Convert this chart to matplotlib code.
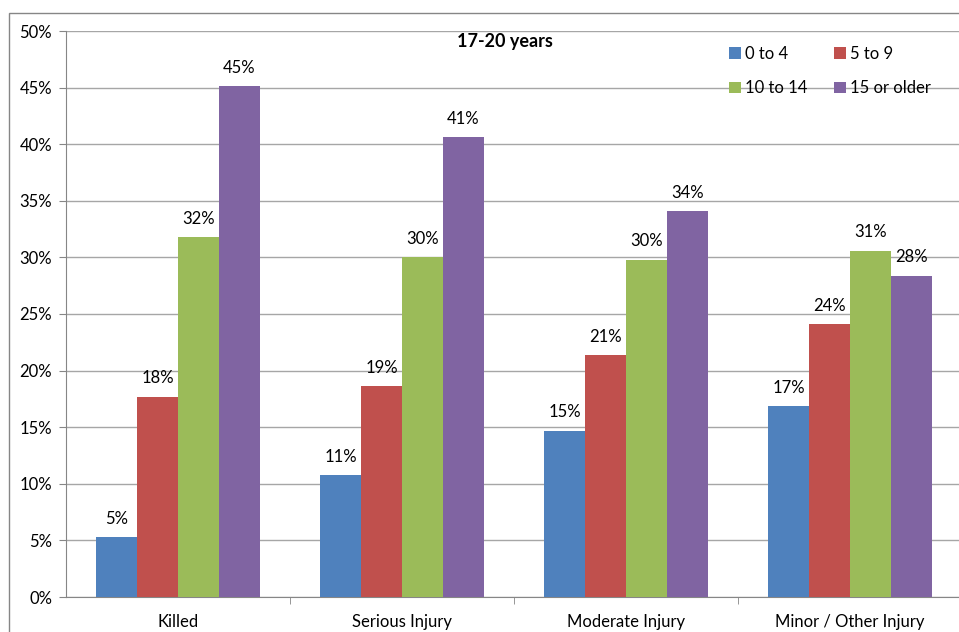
import matplotlib.pyplot as plt
import numpy as np
from matplotlib.patches import Rectangle

categories = ['Killed', 'Serious Injury', 'Moderate Injury', 'Minor / Other Injury']
series = ['0 to 4', '5 to 9', '10 to 14', '15 or older']
vals_0_4 = [5.3, 10.8, 14.7, 16.9]
vals_5_9 = [17.7, 18.6, 21.4, 24.1]
vals_10_14 = [31.8, 30.0, 29.8, 30.6]
vals_15 = [45.1, 40.6, 34.1, 28.4]
colors = ['#4f81bd', '#c0504d', '#9bbb59', '#8064a2']
yticks = [0, 5, 10, 15, 20, 25, 30, 35, 40, 45, 50]

plt.rcParams['font.family'] = ['Lato', 'DejaVu Sans']

fig = plt.figure(figsize=(9.59, 6.32), dpi=100)
ax = fig.add_axes([66 / 959, 1 - 597 / 632, 896 / 959, 566 / 632])

# chart-area border
fig.patches.append(Rectangle((9 / 959, -0.1), 2, (632 - 13) / 632 + 0.1,
                             transform=fig.transFigure, fill=False,
                             edgecolor='#868686', linewidth=1))

x = np.arange(len(categories))
w = 0.182
data = [vals_0_4, vals_5_9, vals_10_14, vals_15]
bars = []
for i, (vals, c, name) in enumerate(zip(data, colors, series)):
    pos = x + (i - 1.5) * w
    bars.append(ax.bar(pos, vals, w, color=c, label=name, zorder=3))
    for p, v in zip(pos, vals):
        ax.text(p, v + 0.9, '%d%%' % round(v), ha='center', va='bottom', fontsize=12)

ax.set_xlim(-0.5, 3.5)
ax.set_ylim(0, 50)
ax.set_yticks(yticks)
ax.set_yticklabels(['%d%%' % t for t in yticks], fontsize=12)
ax.set_xticks(x)
ax.set_xticklabels(categories, fontsize=12)
ax.tick_params(axis='x', which='major', length=0, pad=12)
ax.set_xticks([0.5, 1.5, 2.5], minor=True)
ax.tick_params(axis='x', which='minor', length=5, color='#868686')
ax.tick_params(axis='y', length=5, color='#868686', pad=5)
ax.grid(axis='y', color='#a6a6a6', linewidth=1, zorder=0)
for s in ['top', 'right']:
    ax.spines[s].set_visible(False)
for s in ['left', 'bottom']:
    ax.spines[s].set_color('#868686')

ax.text(0.49, 0.997, '17-20 years', transform=ax.transAxes, ha='center', va='top',
        fontsize=13, fontweight='bold')

# legend filled row by row: column-major order for ncol=2
order = [0, 2, 1, 3]
ax.legend([bars[i] for i in order], [series[i] for i in order], ncol=2,
          loc='upper left', bbox_to_anchor=(648 / 896, 1.0), frameon=False,
          fontsize=12, handlelength=0.7, handleheight=0.7, columnspacing=1.6,
          labelspacing=1.1, handletextpad=0.25)

fig.savefig('out.png', dpi=100)
